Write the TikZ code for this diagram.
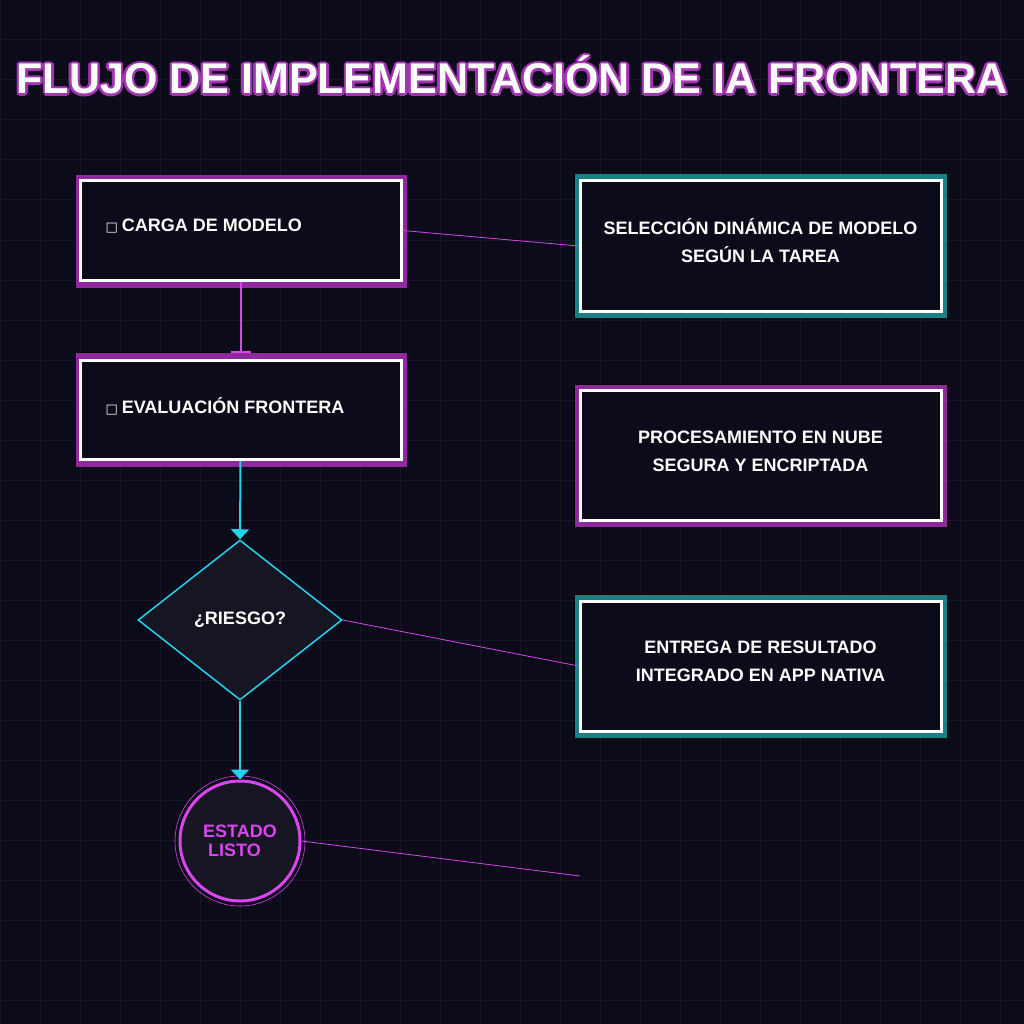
\documentclass[tikz,border=0pt]{standalone}
\usepackage{fontspec}
\setmainfont{Liberation Sans}
\newfontfamily\symfont{DejaVu Sans}
\usetikzlibrary{arrows.meta, positioning, shapes.geometric}
\definecolor{bgnavy}{HTML}{0B0B1A}
\definecolor{gridline}{HTML}{171729}
\definecolor{glowpurple}{HTML}{8E2A9E}
\definecolor{glowteal}{HTML}{1C7F86}
\definecolor{neonpink}{HTML}{D946EF}
\definecolor{neoncyan}{HTML}{22D3EE}
\definecolor{darkfill}{HTML}{161622}

\tikzset{
  stepbox/.style={draw=white, line width=3pt, fill=bgnavy,
               minimum width=321pt, minimum height=99pt},
  steptext/.style={anchor=west, font=\bfseries\fontsize{18}{20}\selectfont, text=white},
  info/.style={draw=white, line width=3pt, fill=bgnavy,
               minimum width=361pt, minimum height=130pt, align=center,
               font=\bfseries\fontsize{18}{28}\selectfont, text=white},
  link/.style={neonpink, line width=0.8pt},
}

\begin{document}
\begin{tikzpicture}[x=1pt, y=-1pt]
  \fill[bgnavy] (0,0) rectangle (1024,1024);
  \useasboundingbox (0,0) rectangle (1024,1024);
  \foreach \g in {0,40,...,1000} {
    \draw[gridline, line width=1pt] (\g,0) -- (\g,1024);
    \draw[gridline, line width=1pt] (0,\g) -- (1024,\g);
  }

  % title with pink outline
  \foreach \dx/\dy in {-2.5/0,2.5/0,0/-2.5,0/2.5,-1.8/-1.8,1.8/1.8,-1.8/1.8,1.8/-1.8}
    \node[text=neonpink!75!black, font=\bfseries\fontsize{43}{50}\selectfont]
      at (512+\dx,75+\dy) {FLUJO DE IMPLEMENTACIÓN DE IA FRONTERA};
  \node[text=white, font=\bfseries\fontsize{43}{50}\selectfont] (title)
    at (512,75) {FLUJO DE IMPLEMENTACIÓN DE IA FRONTERA};

  % left column
  \fill[black] (75,175) rectangle (407,288);
  \draw[glowpurple, line width=6pt] (78.5,178.5) rectangle (403.5,284.5);
  \node[stepbox] (carga) at (240.5,230.5) {};
  \node[steptext] at (102,226)
    {{\symfont\fontsize{13}{13}\selectfont □}\hspace{4pt}CARGA DE MODELO};

  \fill[black] (75,352) rectangle (407,467);
  \draw[glowpurple, line width=6pt] (78.5,355.5) rectangle (403.5,463.5);
  \node[stepbox] (evalua) at (240.5,410) {};
  \node[steptext] at (102,406)
    {{\symfont\fontsize{13}{13}\selectfont □}\hspace{4pt}EVALUACIÓN FRONTERA};

  \node[diamond, draw=neoncyan, line width=1.5pt, fill=darkfill,
        minimum width=204pt, minimum height=160pt, inner sep=0pt,
        font=\bfseries\fontsize{18}{20}\selectfont, text=white]
    (riesgo) at (240,620) {¿RIESGO?};

  \node[circle, draw=neonpink, line width=3pt, fill=darkfill,
        minimum size=120pt, inner sep=0pt, align=left,
        font=\bfseries\fontsize{18}{20}\selectfont, text=neonpink]
    (listo) at (240,841) {ESTADO\\[-1pt]\ LISTO};
  \draw[neonpink, line width=0.6pt] (listo.center) circle (65);

  % right column
  \fill[black] (574,174) rectangle (947,318);
  \draw[glowteal, line width=6pt] (577.5,177.5) rectangle (943.5,314.5);
  \node[info] (seleccion) at (760.5,246) {};
  \node[align=center, font=\bfseries\fontsize{18}{28}\selectfont, text=white]
    at (760.5,241) {SELECCIÓN DINÁMICA DE MODELO\\SEGÚN LA TAREA};

  \fill[black] (574,384) rectangle (947,527);
  \draw[glowpurple, line width=6pt] (577.5,387.5) rectangle (943.5,523.5);
  \node[info] (nube) at (760.5,455.5) {};
  \node[align=center, font=\bfseries\fontsize{18}{28}\selectfont, text=white]
    at (760.5,451) {PROCESAMIENTO EN NUBE\\SEGURA Y ENCRIPTADA};

  \fill[black] (574,594) rectangle (947,738);
  \draw[glowteal, line width=6pt] (577.5,597.5) rectangle (943.5,734.5);
  \node[info] (entrega) at (760.5,666) {};
  \node[align=center, font=\bfseries\fontsize{18}{28}\selectfont, text=white]
    at (760.5,661) {ENTREGA DE RESULTADO\\INTEGRADO EN APP NATIVA};

  \coordinate (libre) at (580,876);

  % connectors
  \draw[neonpink, line width=2pt, -{Bar[width=20pt]}, shorten >=6pt]
    (carga.south) -- (evalua.north);
  \draw[neoncyan, line width=2pt, -{Triangle[width=18pt,length=10pt]}]
    (evalua.south) -- (riesgo.north);
  \draw[neoncyan, line width=2pt, -{Triangle[width=18pt,length=10pt]}]
    (riesgo.south) -- (listo.north);
  \draw[link] (carga.east) -- (seleccion.west);
  \draw[link] (riesgo.east) -- (entrega.west);
  \draw[link] (listo.east) -- (libre);
\end{tikzpicture}
\end{document}
